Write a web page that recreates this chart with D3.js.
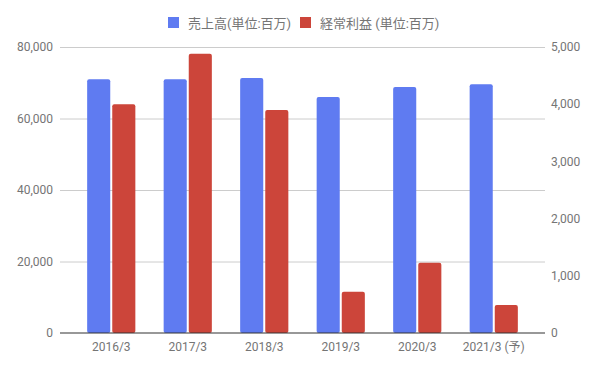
<!DOCTYPE html>
<html>
<head>
<meta charset="utf-8">
<script src="https://cdn.jsdelivr.net/npm/d3@7"></script>
<style>
  body { margin: 0; background: #fff; }
  text { font-family: Roboto, "Noto Sans CJK JP", sans-serif; fill: #757575; }
</style>
</head>
<body>
<div class="chart"></div>
<script>
(function () {
  var categories = ['2016/3', '2017/3', '2018/3', '2019/3', '2020/3', '2021/3 (予)'];
  var sales = [71000, 71000, 71300, 66000, 68800, 69600];
  var profit = [4000, 4880, 3900, 720, 1230, 490];
  var leftTicks = [0, 20000, 40000, 60000, 80000];
  var rightTicks = [0, 1000, 2000, 3000, 4000, 5000];
  var seriesNames = ['売上高(単位:百万)', '経常利益 (単位:百万)'];
  var colors = ['#5f7bf1', '#cc453a'];

  var svg = d3.select('.chart').append('svg')
    .attr('width', 597)
    .attr('height', 368);

  var left = 60, right = 545, top = 47, bottom = 333;

  var x = d3.scaleBand()
    .domain(categories)
    .range([left + 13, right - 13])
    .paddingInner(0.37)
    .paddingOuter(0.185);
  var y = d3.scaleLinear()
    .domain([0, 80000])
    .range([bottom, top]);
  var y2 = d3.scaleLinear()
    .domain([0, 5000])
    .range([bottom, top]);
  var fmt = d3.format(',');

  // gridlines
  svg.append('g')
    .selectAll('line')
    .data(leftTicks.slice(1))
    .enter().append('line')
      .attr('x1', left)
      .attr('x2', right)
      .attr('y1', function (d) { return y(d) + 0.5; })
      .attr('y2', function (d) { return y(d) + 0.5; })
      .attr('stroke', '#cccccc')
      .attr('stroke-width', 1);

  // axis labels
  svg.append('g')
    .selectAll('text')
    .data(leftTicks)
    .enter().append('text')
      .attr('x', 53)
      .attr('y', function (d) { return y(d); })
      .attr('dy', '0.35em')
      .attr('font-size', '12px')
      .style('text-anchor', 'end')
      .text(fmt);
  svg.append('g')
    .selectAll('text')
    .data(rightTicks)
    .enter().append('text')
      .attr('x', 551)
      .attr('y', function (d) { return y2(d); })
      .attr('dy', '0.35em')
      .attr('font-size', '12px')
      .style('text-anchor', 'start')
      .text(fmt);

  // bars
  var half = x.bandwidth() / 2;
  var barW = half - 1;
  var groups = svg.append('g')
    .selectAll('g')
    .data(categories)
    .enter().append('g');
  groups.append('rect')
    .attr('x', function (d) { return x(d); })
    .attr('y', function (d, i) { return y(sales[i]); })
    .attr('width', barW)
    .attr('height', function (d, i) { return bottom - y(sales[i]); })
    .attr('rx', 2)
    .attr('fill', colors[0]);
  groups.append('rect')
    .attr('x', function (d) { return x(d) + half + 1; })
    .attr('y', function (d, i) { return y2(profit[i]); })
    .attr('width', barW)
    .attr('height', function (d, i) { return bottom - y2(profit[i]); })
    .attr('rx', 2)
    .attr('fill', colors[1]);

  // baseline
  svg.append('line')
    .attr('x1', left)
    .attr('x2', right)
    .attr('y1', bottom)
    .attr('y2', bottom)
    .attr('stroke', '#333333')
    .attr('stroke-width', 1.2);

  // x labels
  svg.append('g')
    .selectAll('text')
    .data(categories)
    .enter().append('text')
      .attr('x', function (d) { return x(d) + x.bandwidth() / 2; })
      .attr('y', 351)
      .attr('font-size', '12px')
      .style('text-anchor', 'middle')
      .text(function (d) { return d; });

  // legend
  var legendX = [168, 300];
  var legend = svg.append('g')
    .selectAll('g')
    .data(seriesNames)
    .enter().append('g')
      .attr('transform', function (d, i) { return 'translate(' + legendX[i] + ',17)'; });
  legend.append('rect')
    .attr('width', 11)
    .attr('height', 11)
    .attr('fill', function (d, i) { return colors[i]; });
  legend.append('text')
    .attr('x', 20)
    .attr('y', 6)
    .attr('dy', '0.35em')
    .attr('font-size', '13px')
    .text(function (d) { return d; });
})();
</script>
</body>
</html>
